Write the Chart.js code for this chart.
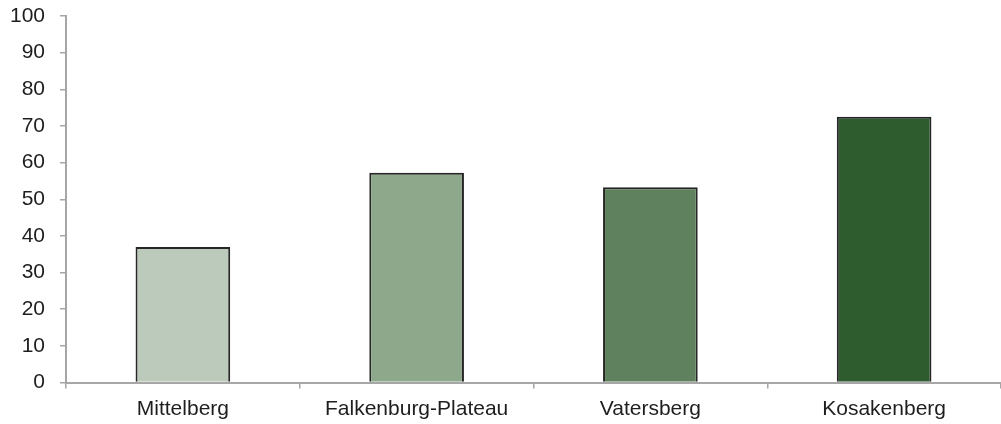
<!DOCTYPE html>
<html>
<head>
<meta charset="utf-8">
<script src="https://cdn.jsdelivr.net/npm/chart.js@4/dist/chart.umd.min.js"></script>
<style>
    html, body { margin: 0; padding: 0; background: #ffffff; }
    #wrap { width: 1001px; height: 424px; position: relative; }
</style>
</head>
<body>
<div id="wrap"><canvas id="barChart"></canvas></div>
<script>
// Standorte und Werte
const categories = ['Mittelberg', 'Falkenburg-Plateau', 'Vatersberg', 'Kosakenberg'];
const values = [37, 57.2, 53.3, 72.5];
const barColors = ['#bccabb', '#8ea88c', '#5f815d', '#2f5c2f'];
const yTicks = [0, 10, 20, 30, 40, 50, 60, 70, 80, 90, 100];

const axisColor = '#a6a6a6';
const textColor = '#1e1e1e';
const fontFamily = '"Liberation Sans", Arial, sans-serif';

const ctx = document.getElementById('barChart').getContext('2d');

new Chart(ctx, {
    type: 'bar',
    data: {
        labels: categories,
        datasets: [{
            data: values,
            backgroundColor: barColors,
            borderColor: '#262626',
            borderWidth: 2,
            borderSkipped: 'bottom',
            categoryPercentage: 1,
            barPercentage: 0.405
        }]
    },
    options: {
        responsive: true,
        maintainAspectRatio: false,
        animation: false,
        layout: { padding: { top: 16, right: 0, left: 0, bottom: 0 } },
        plugins: {
            legend: { display: false },
            tooltip: { enabled: false }
        },
        scales: {
            x: {
                offset: true,
                afterFit: scale => {
                    scale.height = 41.5;
                    scale.paddingLeft = 0;
                    scale.paddingRight = 0;
                },
                grid: {
                    offset: true,
                    drawOnChartArea: false,
                    color: axisColor,
                    lineWidth: 1.5,
                    tickLength: 6
                },
                border: { color: axisColor, width: 2 },
                ticks: {
                    color: textColor,
                    padding: 8,
                    font: { family: fontFamily, size: 21 }
                }
            },
            y: {
                min: 0,
                max: 100,
                afterFit: scale => {
                    scale.width = 66;
                    scale.paddingTop = 0;
                    scale.paddingBottom = 0;
                },
                afterBuildTicks: scale => { scale.ticks = yTicks.map(v => ({ value: v })); },
                grid: {
                    drawOnChartArea: false,
                    color: axisColor,
                    lineWidth: 1.5,
                    tickLength: 6
                },
                border: { color: axisColor, width: 2 },
                ticks: {
                    color: textColor,
                    padding: 15,
                    font: { family: fontFamily, size: 21 }
                }
            }
        }
    }
});
</script>
</body>
</html>
